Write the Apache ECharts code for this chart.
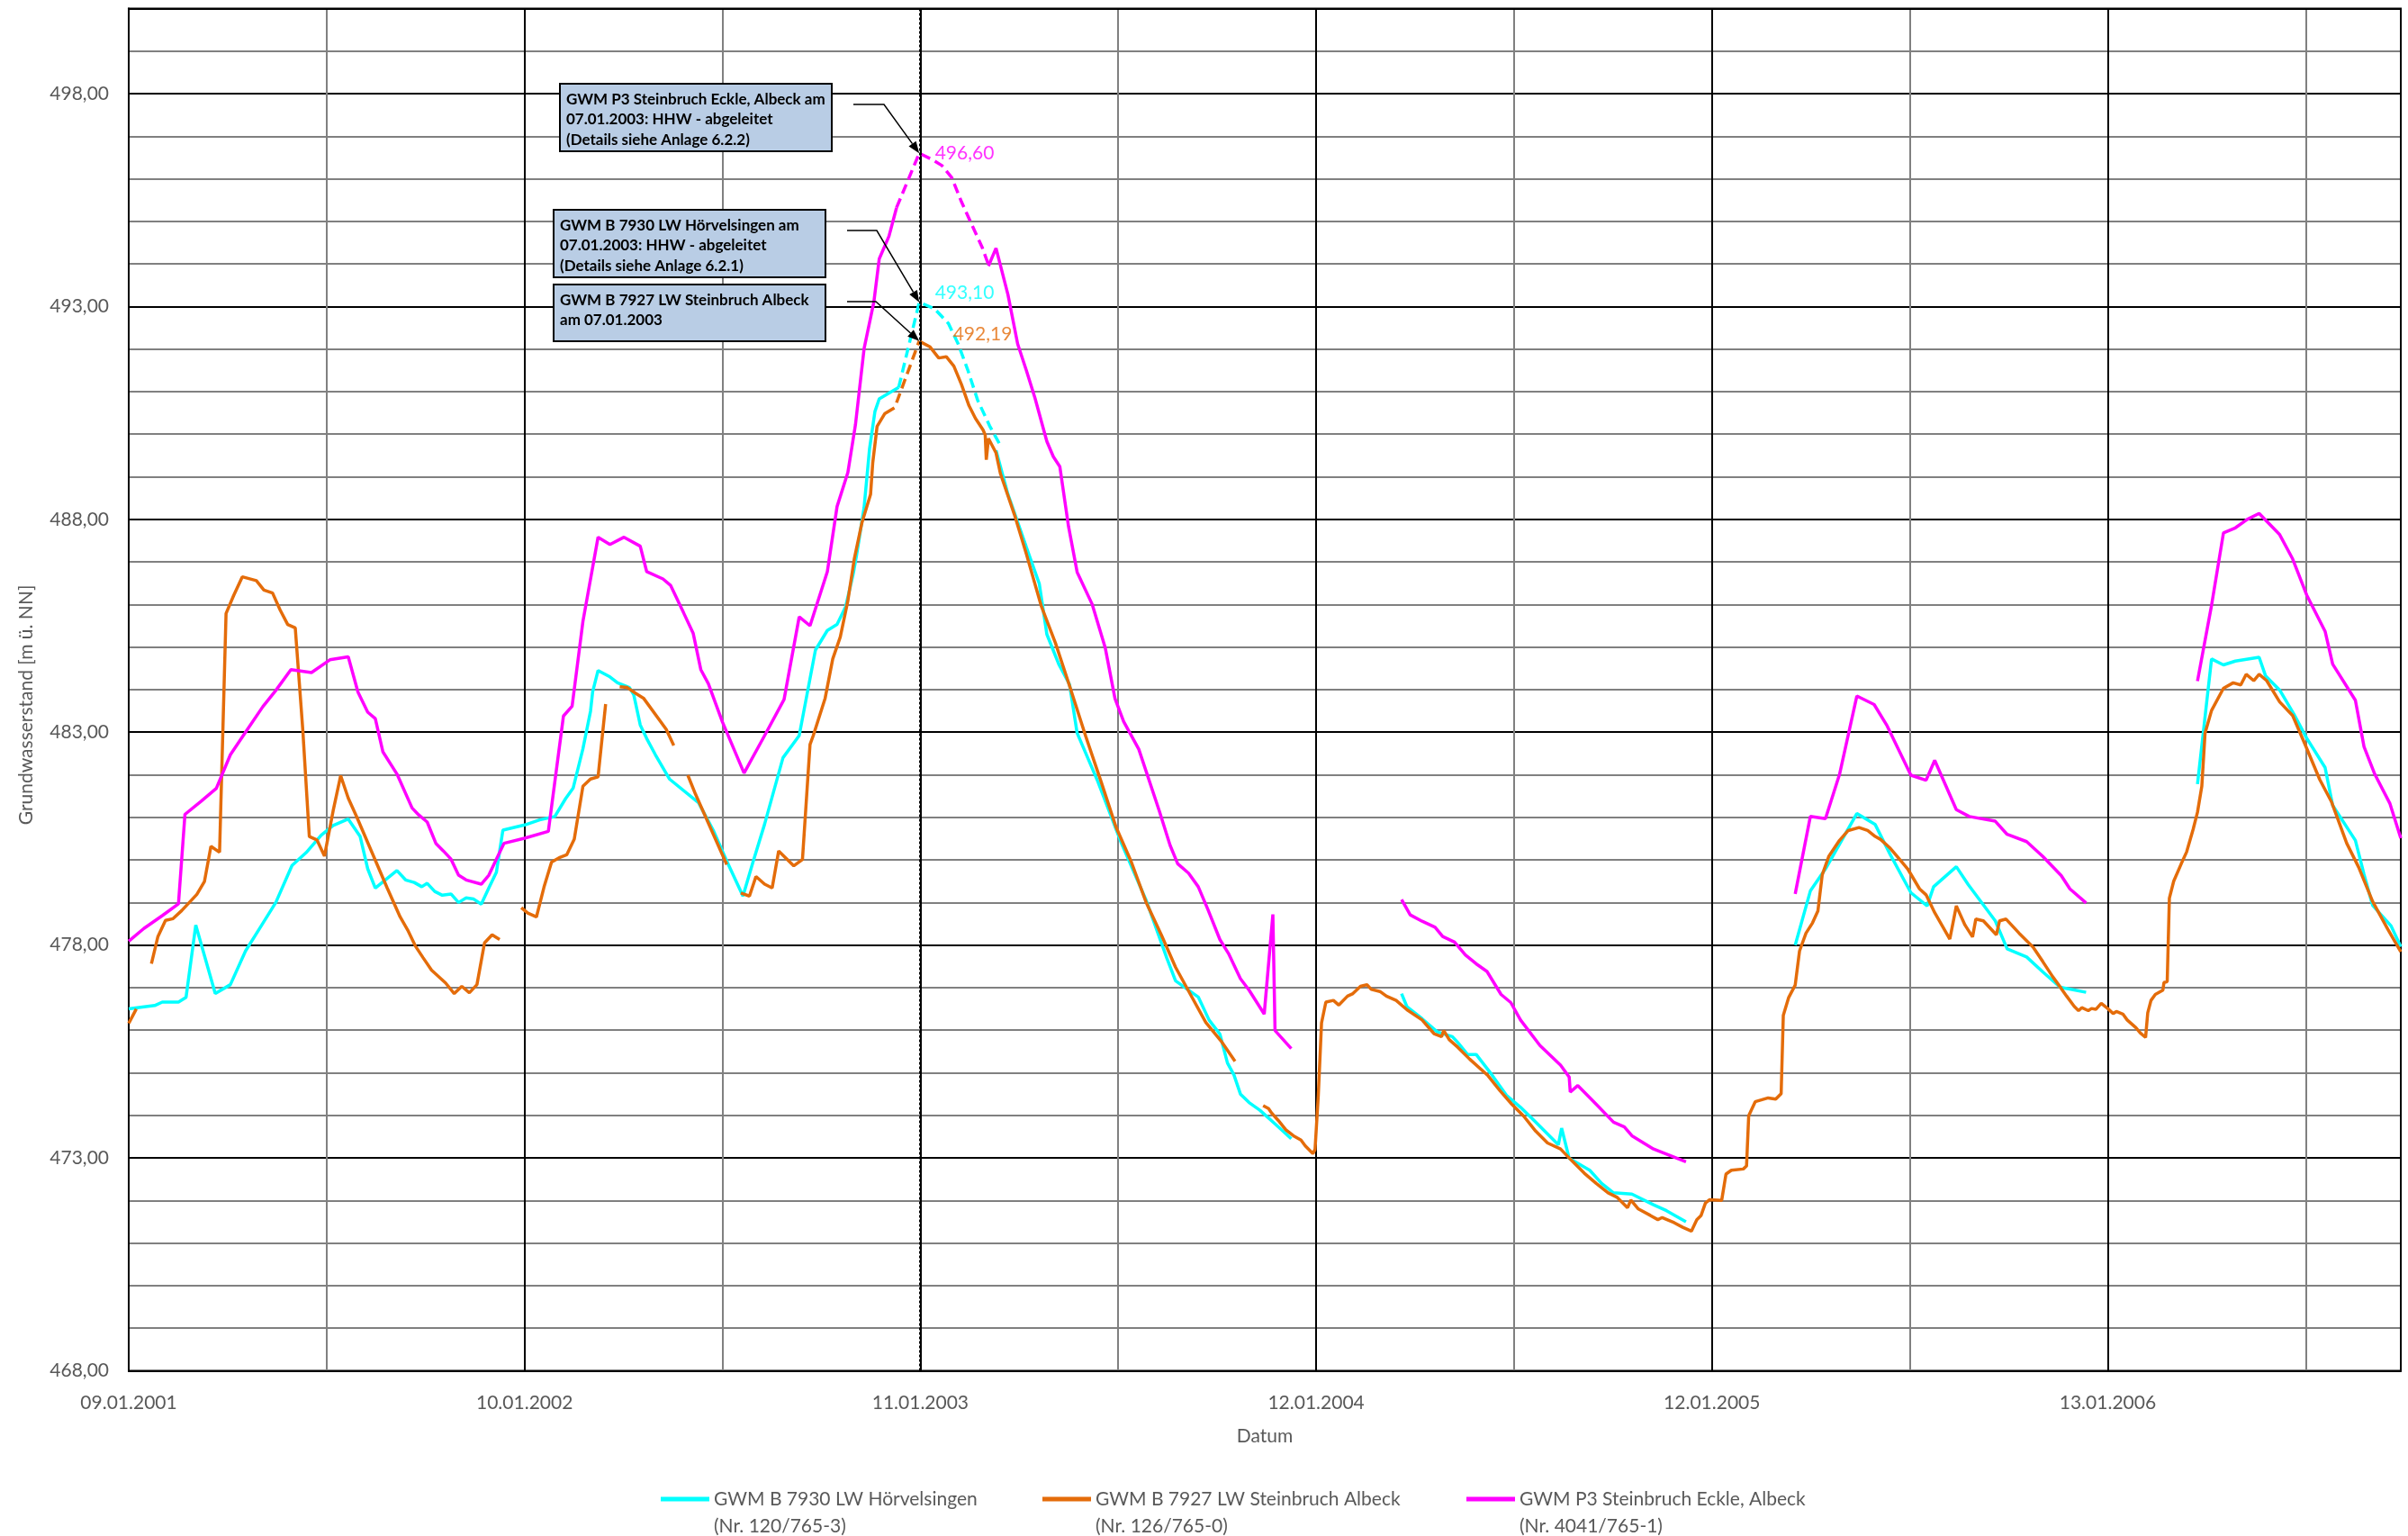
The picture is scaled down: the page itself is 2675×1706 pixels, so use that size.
<!DOCTYPE html>
<html>
<head>
<meta charset="UTF-8">
<title>Grundwasserstand</title>
<script src="https://cdn.jsdelivr.net/npm/echarts@6/dist/echarts.min.js"></script>
<style>
  html, body { margin: 0; padding: 0; background: #fff; }
  #chart { width: 2675px; height: 1706px; }
</style>
</head>
<body>
<div id="chart"></div>
<script>
// x-Werte: Tage seit dem 09.01.2001, y-Werte: Grundwasserstand [m ü. NN]
var xTickLabels = ['09.01.2001', '10.01.2002', '11.01.2003', '12.01.2004', '12.01.2005', '13.01.2006'];
var seriesNames = [
  'GWM B 7930 LW Hörvelsingen\n(Nr. 120/765-3)',
  'GWM B 7927 LW Steinbruch Albeck\n(Nr. 126/765-0)',
  'GWM P3 Steinbruch Eckle, Albeck\n(Nr. 4041/765-1)'
];
var colors = ['#00ffff', '#e46c0a', '#ff00ff'];

// GWM B 7930 (cyan)
var cyanSolid = [
  [[0,476.50],[11,476.54],[24,476.58],[31,476.66],[46,476.66],[53,476.77],[62,478.47],[80,476.86],[94,477.07],
   [108,477.86],[122,478.43],[136,479.00],[151,479.87],[164,480.17],[178,480.58],[189,480.81],[203,480.96],
   [214,480.55],[221,479.79],[228,479.34],[248,479.75],[256,479.53],[264,479.47],[271,479.37],[276,479.45],
   [283,479.26],[290,479.17],[298,479.20],[305,479.00],[312,479.11],[319,479.08],[326,478.96],[333,479.34],
   [340,479.71],[346,480.70],[366,480.82],[380,480.94],[394,481.02],[404,481.44],[411,481.69],[420,482.61],
   [427,483.49],[429,483.95],[434,484.45],[445,484.30],[452,484.16],[463,484.05],[467,483.88],[473,483.17],
   [479,482.85],[487,482.47],[500,481.90],[527,481.34],[541,480.67],[552,480.03],[568,479.15],[577,479.93],
   [588,480.84],[605,482.40],[620,482.92],[635,484.93],[646,485.39],[655,485.53],[663,485.95],[670,486.73],
   [673,487.15],[680,488.28],[685,489.65],[690,490.53],[694,490.83],[712,491.10]],
  [[802,489.62],[813,488.59],[830,487.35],[842,486.49],[849,485.30],[860,484.60],[870,484.12],[877,482.98],
   [896,481.85],[918,480.39],[941,479.04],[960,477.69],[968,477.16],[989,476.78],[999,476.24],[1009,475.91],
   [1016,475.23],[1022,474.95],[1028,474.50],[1036,474.30],[1046,474.12],[1060,473.80],[1075,473.45]],
  [[1177,476.86],[1182,476.55],[1196,476.27],[1210,475.96],[1224,475.85],[1229,475.71],[1238,475.43],
   [1246,475.43],[1260,474.97],[1274,474.47],[1287,474.19],[1301,473.84],[1322,473.31],[1325,473.70],
   [1332,472.99],[1351,472.71],[1362,472.40],[1373,472.18],[1390,472.15],[1410,471.90],[1422,471.76],[1440,471.50]],
  [[1541,478.00],[1555,479.27],[1569,479.79],[1584,480.46],[1598,481.09],[1615,480.83],[1629,480.12],
   [1648,479.23],[1663,478.92],[1669,479.37],[1690,479.84],[1701,479.42],[1726,478.57],[1737,477.91],
   [1755,477.72],[1770,477.37],[1786,477.01],[1810,476.89]],
  [[1913,481.78],[1926,484.72],[1937,484.58],[1948,484.67],[1970,484.76],[1976,484.32],[1989,483.99],
   [2002,483.43],[2014,482.86],[2031,482.17],[2038,481.28],[2059,480.46],[2067,479.66],[2075,478.93],
   [2092,478.45],[2101,477.96]]
];
var cyanDerived = [[712,491.10],[731,493.10],[745,492.95],[758,492.60],[767,492.12],[776,491.50],[785,490.80],[796,490.20],[807,489.69]];

// GWM B 7927 (orange)
var orangeSolid = [
  [[0,476.16],[7,476.50]],
  [[21,477.56],[27,478.20],[34,478.58],[41,478.62],[49,478.81],[63,479.19],[70,479.49],[76,480.32],[84,480.18],
   [90,485.79],[97,486.21],[105,486.65],[118,486.56],[125,486.34],[133,486.27],[140,485.87],[147,485.53],
   [154,485.45],[161,483.04],[167,480.55],[174,480.47],[181,480.09],[189,481.15],[196,481.98],[203,481.45],
   [211,481.00],[225,480.17],[239,479.34],[251,478.66],[258,478.35],[265,477.98],[272,477.71],[280,477.41],
   [293,477.11],[301,476.86],[308,477.03],[315,476.88],[322,477.07],[329,478.05],[336,478.24],[343,478.13]],
  [[363,478.88],[369,478.75],[377,478.66],[384,479.36],[391,479.95],[398,480.05],[405,480.12],[412,480.49],
   [420,481.73],[427,481.90],[434,481.95],[441,483.66]],
  [[454,484.07],[461,484.05],[469,483.91],[476,483.80],[497,483.07],[504,482.69]],
  [[517,481.99],[524,481.55],[553,479.89]],
  [[566,479.22],[574,479.15],[580,479.61],[588,479.43],[595,479.34],[601,480.21],[615,479.86],[623,480.01],
   [630,482.71],[633,482.92],[644,483.80],[651,484.72],[658,485.24],[665,486.09],[671,487.08],[678,487.92],
   [686,488.59],[688,489.33],[692,490.18],[699,490.48],[708,490.62]],
  [[732,492.17],[741,492.05],[749,491.79],[756,491.82],[763,491.60],[770,491.17],[777,490.67],[783,490.37],
   [790,490.10],[792,489.98],[793,489.40],[795,489.90],[802,489.56],[806,489.08],[819,488.11],[830,487.19],
   [844,485.95],[857,485.09],[871,484.01],[885,482.90],[899,481.85],[913,480.77],[927,479.96],[941,478.99],
   [955,478.23],[968,477.48],[982,476.83],[996,476.18],[1010,475.75],[1023,475.27]],
  [[1049,474.23],[1054,474.16],[1057,474.05],[1063,473.88],[1070,473.66],[1077,473.52],[1084,473.42],
   [1088,473.28],[1095,473.10],[1097,473.20],[1100,474.47],[1103,476.17],[1107,476.66],[1114,476.70],
   [1119,476.59],[1127,476.80],[1132,476.86],[1139,477.03],[1145,477.07],[1149,476.96],[1157,476.91],
   [1163,476.80],[1172,476.70],[1182,476.48],[1196,476.24],[1207,475.92],[1214,475.85],[1216,475.99],
   [1221,475.78],[1229,475.60],[1240,475.32],[1257,474.93],[1268,474.58],[1279,474.26],[1290,473.98],
   [1301,473.63],[1312,473.35],[1324,473.21],[1335,472.92],[1346,472.64],[1357,472.40],[1368,472.18],
   [1376,472.08],[1386,471.83],[1389,472.01],[1396,471.80],[1407,471.65],[1414,471.55],[1418,471.60],
   [1429,471.48],[1437,471.37],[1445,471.28],[1450,471.55],[1454,471.65],[1458,471.94],[1462,472.02],
   [1473,472.00],[1477,472.62],[1482,472.71],[1493,472.74],[1496,472.81],[1498,473.99],[1504,474.32],
   [1516,474.41],[1523,474.38],[1528,474.51],[1530,476.35],[1535,476.77],[1541,477.06],[1545,477.86],
   [1551,478.28],[1557,478.52],[1562,478.80],[1566,479.65],[1572,480.08],[1582,480.46],[1590,480.69],
   [1600,480.76],[1608,480.69],[1615,480.55],[1620,480.48],[1629,480.27],[1637,480.03],[1645,479.79],
   [1656,479.32],[1662,479.18],[1670,478.76],[1684,478.14],[1690,478.92],[1698,478.47],[1705,478.19],
   [1708,478.61],[1715,478.57],[1727,478.24],[1730,478.57],[1736,478.61],[1748,478.28],[1761,477.95],
   [1770,477.61],[1779,477.26],[1787,476.98],[1792,476.80],[1799,476.56],[1803,476.46],[1806,476.53],
   [1812,476.46],[1815,476.51],[1819,476.49],[1824,476.63],[1830,476.51],[1835,476.39],[1838,476.44],
   [1844,476.38],[1848,476.24],[1856,476.06],[1860,475.94],[1865,475.83],[1867,476.41],[1870,476.70],
   [1874,476.84],[1881,476.94],[1882,477.12],[1885,477.14],[1887,479.10],[1891,479.50],[1898,479.91],
   [1903,480.19],[1909,480.72],[1913,481.12],[1917,481.73],[1920,482.98],[1926,483.51],[1937,484.03],
   [1946,484.16],[1953,484.11],[1958,484.36],[1965,484.21],[1970,484.36],[1977,484.21],[1989,483.71],
   [2001,483.39],[2012,482.74],[2026,481.89],[2037,481.36],[2051,480.39],[2062,479.83],[2075,479.02],
   [2089,478.37],[2101,477.84]]
];
var orangeDerived = [[710,490.74],[731,492.19]];

// GWM P3 (magenta)
var magentaSolid = [
  [[0,478.09],[14,478.39],[31,478.69],[46,478.97],[52,481.07],[67,481.38],[81,481.68],[94,482.47],[108,483.00],
   [124,483.60],[136,483.98],[150,484.47],[169,484.40],[186,484.70],[203,484.77],[212,483.94],[221,483.47],
   [228,483.32],[235,482.54],[248,482.02],[262,481.22],[268,481.06],[276,480.89],[284,480.39],[291,480.21],
   [298,480.02],[305,479.64],[312,479.53],[326,479.43],[333,479.64],[340,480.02],[347,480.39],[366,480.51],
   [388,480.67],[402,483.38],[410,483.61],[420,485.60],[434,487.58],[445,487.41],[458,487.58],[473,487.37],
   [479,486.77],[494,486.60],[501,486.45],[513,485.81],[522,485.32],[529,484.47],[536,484.14],[549,483.24],
   [569,482.04],[588,482.92],[606,483.77],[620,485.71],[630,485.50],[646,486.77],[655,488.30],[665,489.10],
   [672,490.22],[680,492.01],[689,493.10],[694,494.12],[703,494.65],[710,495.32]],
  [[795,493.95],[802,494.37],[813,493.28],[822,492.12],[830,491.50],[838,490.85],[849,489.83],[855,489.47],
   [861,489.24],[869,487.84],[877,486.76],[891,486.00],[903,484.98],[912,483.79],[920,483.25],[934,482.60],
   [953,481.15],[963,480.34],[970,479.91],[980,479.69],[989,479.37],[998,478.83],[1009,478.13],[1017,477.80],
   [1028,477.21],[1036,476.94],[1050,476.38],[1058,478.72],[1060,475.99],[1075,475.57]],
  [[1177,479.07],[1185,478.71],[1196,478.56],[1208,478.42],[1215,478.20],[1226,478.07],[1236,477.77],
   [1246,477.56],[1256,477.38],[1269,476.84],[1278,476.65],[1287,476.24],[1305,475.64],[1324,475.18],
   [1332,474.90],[1333,474.55],[1340,474.70],[1357,474.26],[1373,473.84],[1383,473.73],[1390,473.52],
   [1410,473.21],[1421,473.10],[1440,472.91]],
  [[1541,479.20],[1555,481.02],[1569,480.97],[1582,482.01],[1598,483.85],[1614,483.65],[1626,483.15],
   [1648,481.99],[1662,481.87],[1670,482.34],[1690,481.18],[1702,481.02],[1726,480.91],[1737,480.60],
   [1755,480.43],[1770,480.08],[1787,479.63],[1795,479.32],[1810,478.99]],
  [[1913,484.20],[1926,485.98],[1937,487.68],[1948,487.80],[1959,488.00],[1970,488.14],[1989,487.64],
   [2001,487.07],[2014,486.22],[2031,485.37],[2038,484.60],[2059,483.75],[2067,482.66],[2077,482.01],
   [2091,481.32],[2101,480.51]]
];
var magentaDerived = [[710,495.32],[731,496.60],[743,496.45],[752,496.31],[761,496.03],[770,495.46],[780,494.90],[789,494.40],[795,493.98]];

// Höchstwerte am 07.01.2003 (Reihenfolge: magenta, cyan, orange)
var peakDay = 731;
var peakValues = [496.60, 493.10, 492.19];
var peakLabels = ['496,60', '493,10', '492,19'];
var peakColors = ['#ff00ff', '#00ffff', '#e46c0a'];
var noteTexts = [
  'GWM P3 Steinbruch Eckle, Albeck am\n07.01.2003: HHW - abgeleitet\n(Details siehe Anlage 6.2.2)',
  'GWM B 7930 LW Hörvelsingen am\n07.01.2003: HHW - abgeleitet\n(Details siehe Anlage 6.2.1)',
  'GWM B 7927 LW Steinbruch Albeck\nam 07.01.2003'
];
var markerDay = 732; // 11.01.2003

function joinSegments(segs) {
  var out = [];
  segs.forEach(function (s, i) {
    if (i > 0) {
      var prev = segs[i - 1];
      out.push([(prev[prev.length - 1][0] + s[0][0]) / 2, '-']);
    }
    out = out.concat(s);
  });
  return out;
}

var font = 'Lato';
var gray = '#595959';

function lineSeries(name, color, data, dashed) {
  return {
    type: 'line',
    name: name,
    data: data,
    showSymbol: false,
    symbol: 'none',
    connectNulls: false,
    silent: true,
    lineStyle: { color: color, width: 3.5, type: dashed ? [11, 6] : 'solid' },
    itemStyle: { color: color }
  };
}

var series = [
  lineSeries(seriesNames[0], colors[0], joinSegments(cyanSolid), false),
  lineSeries(seriesNames[0], colors[0], cyanDerived, true),
  lineSeries(seriesNames[1], colors[1], joinSegments(orangeSolid), false),
  lineSeries(seriesNames[1], colors[1], orangeDerived, true),
  lineSeries(seriesNames[2], colors[2], joinSegments(magentaSolid), false),
  lineSeries(seriesNames[2], colors[2], magentaDerived, true)
];
series[0].markLine = {
  silent: true,
  symbol: ['none', 'none'],
  label: { show: false },
  lineStyle: { color: '#000', width: 3, type: [3, 2] },
  data: [{ xAxis: markerDay }]
};
var labelOffsets = [[12, 0], [12, -10], [32, -7]];
series.push({
  type: 'scatter',
  silent: true,
  symbolSize: 1,
  itemStyle: { color: 'rgba(0,0,0,0)' },
  data: peakValues.map(function (v, i) {
    return {
      value: [peakDay, v],
      label: {
        show: true, position: 'right', formatter: peakLabels[i], offset: labelOffsets[i],
        color: peakColors[i], fontFamily: font, fontSize: 21
      }
    };
  }),
  z: 5
});

function legendAt(name, left) {
  return {
    data: [name],
    left: left,
    top: 1615,
    icon: 'rect',
    itemWidth: 54,
    itemHeight: 5,
    selectedMode: false,
    formatter: function (n) { return ' \n' + n; },
    textStyle: { color: gray, fontFamily: font, fontSize: 21, lineHeight: 30 }
  };
}

var chart = echarts.init(document.getElementById('chart'), null, { renderer: 'canvas' });
var option = {
  backgroundColor: '#fff',
  animation: false,
  grid: { left: 143, right: 8, top: 9.4, bottom: 183.5, show: true, borderColor: '#000', borderWidth: 2, outerBoundsMode: 'none' },
  legend: [
    legendAt(seriesNames[0], 729),
    legendAt(seriesNames[1], 1153),
    legendAt(seriesNames[2], 1624)
  ],
  xAxis: [{
    type: 'value',
    min: 0,
    max: 2101,
    interval: 183,
    name: 'Datum',
    nameLocation: 'middle',
    nameGap: 62,
    nameTextStyle: { color: gray, fontFamily: font, fontSize: 21 },
    axisLine: { show: true, lineStyle: { color: '#000', width: 2 } },
    axisTick: { show: false },
    axisLabel: {
      color: gray, fontFamily: font, fontSize: 21, margin: 25,
      formatter: function (v) { return v % 366 === 0 ? xTickLabels[v / 366] : ''; }
    },
    splitLine: { show: true, lineStyle: { color: ['#000', '#808080'], width: 2 } }
  }, {
    type: 'value',
    position: 'top',
    min: 0,
    max: 2101,
    axisLine: { show: true, lineStyle: { color: '#000', width: 2 } },
    axisTick: { show: false },
    axisLabel: { show: false },
    splitLine: { show: false }
  }],
  yAxis: {
    type: 'value',
    min: 468,
    max: 500,
    interval: 1,
    name: 'Grundwasserstand [m ü. NN]',
    nameLocation: 'middle',
    nameGap: 103,
    nameTextStyle: { color: gray, fontFamily: font, fontSize: 21, padding: [0, 34, 0, 0] },
    axisLine: { show: true, lineStyle: { color: '#000', width: 2 } },
    axisTick: { show: false },
    axisLabel: {
      color: gray, fontFamily: font, fontSize: 21, margin: 22,
      formatter: function (v) { return (v - 468) % 5 === 0 ? v.toFixed(2).replace('.', ',') : ''; }
    },
    splitLine: { show: true, lineStyle: { color: ['#000', '#808080', '#808080', '#808080', '#808080'], width: 2 } }
  },
  series: series
};
chart.setOption(option);

// Beschriftungskästen mit Pfeilen auf die Höchstwerte
function arrowParts(pts) {
  var a = pts[pts.length - 2], b = pts[pts.length - 1];
  var dx = b[0] - a[0], dy = b[1] - a[1], len = Math.sqrt(dx * dx + dy * dy);
  var ux = dx / len, uy = dy / len, hl = 13, hw = 5;
  var base = [b[0] - ux * hl, b[1] - uy * hl];
  var line = pts.slice(0, -1).concat([base]);
  return [
    { type: 'polyline', silent: true, z: 100, shape: { points: line }, style: { stroke: '#000', lineWidth: 1.5, fill: null } },
    { type: 'polygon', silent: true, z: 100, shape: { points: [b, [base[0] - uy * hw, base[1] + ux * hw], [base[0] + uy * hw, base[1] - ux * hw]] }, style: { fill: '#000' } }
  ];
}
var boxes = [
  { x: 622, y: 93, w: 302, h: 75, tx: 629, ty: 99, from: [[948, 116], [982, 116]] },
  { x: 615, y: 233, w: 302, h: 75, tx: 622, ty: 239, from: [[941, 256], [974, 256]] },
  { x: 615, y: 316, w: 302, h: 63, tx: 622, ty: 322, from: [[941, 335], [973, 335]] }
];
var graphics = [];
boxes.forEach(function (b, i) {
  graphics.push({ type: 'rect', silent: true, z: 100, shape: { x: b.x, y: b.y, width: b.w, height: b.h }, style: { fill: '#b9cde5', stroke: '#000', lineWidth: 2 } });
  graphics.push({ type: 'text', silent: true, z: 101, style: { x: b.tx, y: b.ty, text: noteTexts[i], font: 'bold 17px ' + font, fill: '#000', lineHeight: 22.5, verticalAlign: 'top' } });
  var tip = chart.convertToPixel({ xAxisIndex: 0, yAxisIndex: 0 }, [peakDay, peakValues[i]]);
  graphics = graphics.concat(arrowParts(b.from.concat([tip])));
});
chart.setOption({ graphic: graphics });
</script>
</body>
</html>
